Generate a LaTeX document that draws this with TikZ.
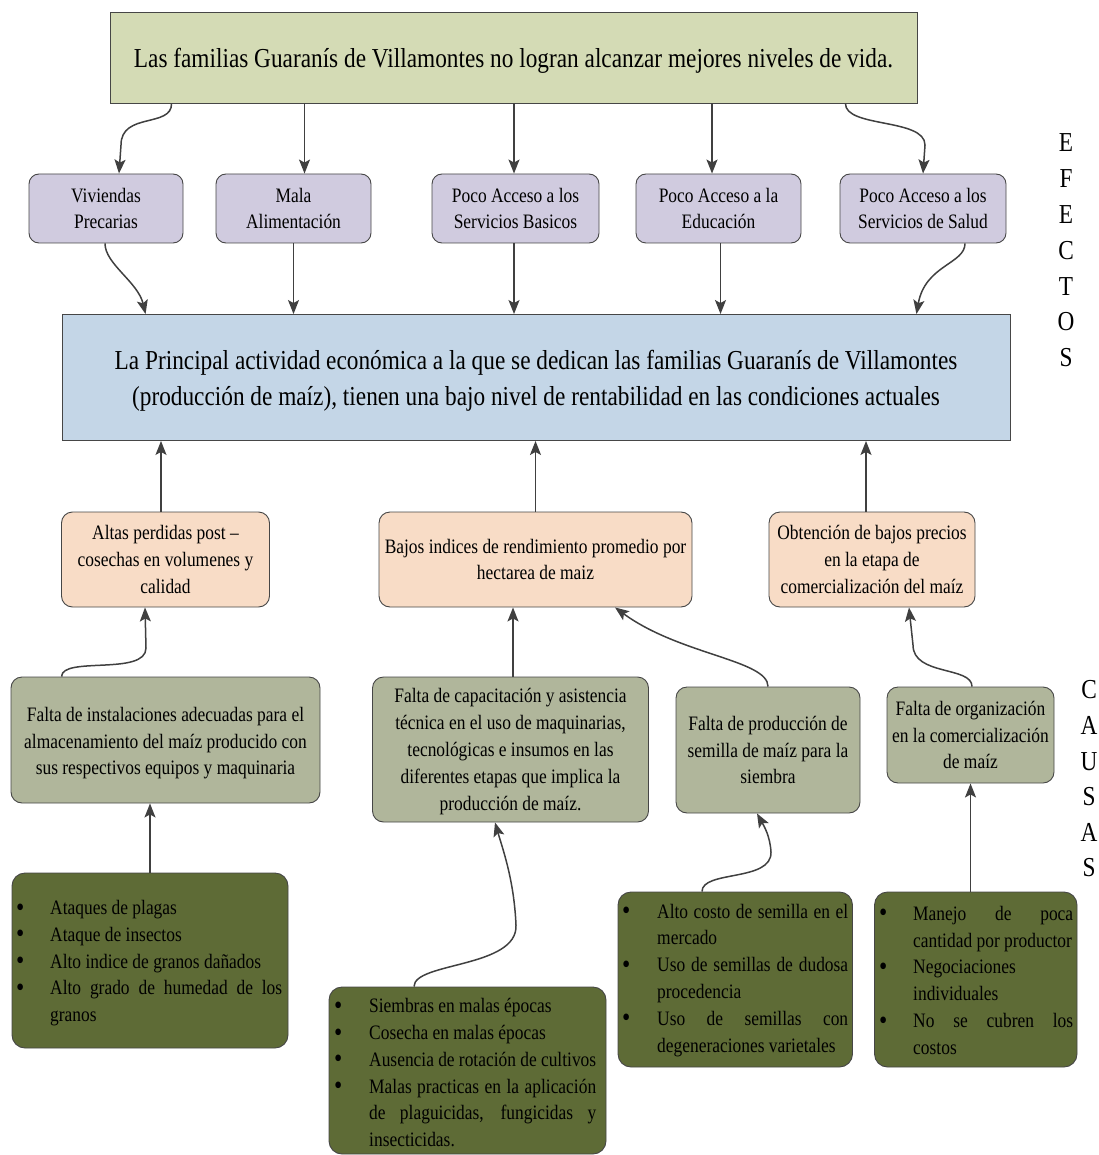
\documentclass[tikz,border=0pt]{standalone}
\usepackage{fontspec}
\setmainfont{Liberation Serif}[FakeStretch=0.85]
\usetikzlibrary{arrows.meta}
\definecolor{topc}{RGB}{212,219,181}
\definecolor{purc}{RGB}{208,203,223}
\definecolor{bluec}{RGB}{196,214,231}
\definecolor{orac}{RGB}{248,220,198}
\definecolor{grayc}{RGB}{176,182,155}
\definecolor{darkc}{RGB}{94,107,54}
\definecolor{bordc}{RGB}{70,70,70}
\definecolor{arrc}{RGB}{64,64,64}
\newcommand\fsml{\fontsize{20.5pt}{26.8pt}\selectfont}
\newcommand\fbg{\fontsize{27.4pt}{36pt}\selectfont}
\newlength\bhang
\newcommand\bul[1]{\par\noindent\hangindent=\bhang\hangafter=1\hbox to\bhang{\raisebox{-1.5pt}{\scalebox{1.35}{\textbullet}}\hfil}#1\par}
\newcommand\nohyph{\hyphenpenalty=10000\exhyphenpenalty=10000\relax}
\tikzset{
  base/.style={draw=bordc, line width=0.9pt, inner sep=0pt, align=center, font=\fsml},
  topbox/.style={base, fill=topc, font=\fbg},
  bluebox/.style={base, fill=bluec, font=\fbg},
  purbox/.style={base, fill=purc, rounded corners=10pt},
  orabox/.style={base, fill=orac, rounded corners=11pt},
  graybox/.style={base, fill=grayc, rounded corners=11pt},
  darkbox/.style={base, fill=darkc, rounded corners=13pt},
  bultext/.style={inner sep=0pt, anchor=west, align=justify, font=\fsml},
  side/.style={inner sep=0pt, align=center},
  conn/.style={draw=arrc, line width=1.5pt, -{Stealth[length=14pt,width=11pt,inset=3pt]}},
}
\begin{document}
\begin{tikzpicture}[x=1pt,y=-1pt]
\useasboundingbox (0,0) rectangle (1098,1155);
% effects level
\node[topbox, minimum width=807pt, minimum height=91pt] (top) at (513.5,57.5) {\rule{0pt}{25pt}Las familias Guaranís de Villamontes no logran alcanzar mejores niveles de vida.};
\node[purbox, minimum width=154pt, minimum height=69pt] (p1) at (106,208.5) {Viviendas\\Precarias};
\node[purbox, minimum width=155pt, minimum height=69pt] (p2) at (293.5,208.5) {Mala\\Alimentación};
\node[purbox, minimum width=167pt, minimum height=69pt] (p3) at (515.5,208.5) {Poco Acceso a los\\Servicios Basicos};
\node[purbox, minimum width=165pt, minimum height=69pt] (p4) at (718.5,208.5) {Poco Acceso a la\\Educación};
\node[purbox, minimum width=166pt, minimum height=69pt] (p5) at (923,208.5) {Poco Acceso a los\\Servicios de Salud};
\node[bluebox, minimum width=948pt, minimum height=126pt] (blue) at (536,377.5) {\rule{0pt}{25pt}La Principal actividad económica a la que se dedican las familias Guaranís de Villamontes\\(producción de maíz), tienen una bajo nivel de rentabilidad en las condiciones actuales};
% causes level
\node[orabox, minimum width=208pt, minimum height=95pt] (o1) at (165.5,559.5) {Altas perdidas post –\\cosechas en volumenes y\\calidad};
\node[orabox, minimum width=313pt, minimum height=95pt] (o2) at (535.5,559.5) {Bajos indices de rendimiento promedio por\\hectarea de maiz};
\node[orabox, minimum width=206pt, minimum height=95pt] (o3) at (872,559.5) {Obtención de bajos precios\\en la etapa de\\comercialización del maíz};
\node[graybox, minimum width=309pt, minimum height=126pt] (g1) at (165.5,740) {\rule{0pt}{20.5pt}Falta de instalaciones adecuadas para el\\almacenamiento del maíz producido con\\sus respectivos equipos y maquinaria};
\node[graybox, minimum width=276pt, minimum height=145pt] (g2) at (510.5,749.5) {\rule{0pt}{18.5pt}Falta de capacitación y asistencia\\técnica en el uso de maquinarias,\\tecnológicas e insumos en las\\diferentes etapas que implica la\\producción de maíz.};
\node[graybox, minimum width=184pt, minimum height=126pt] (g3) at (768,750) {Falta de producción de\\semilla de maíz para la\\siembra};
\node[graybox, minimum width=167pt, minimum height=96pt] (g4) at (970.5,735) {Falta de organización\\en la comercialización\\de maíz};
\node[darkbox, minimum width=276pt, minimum height=175pt] (d1) at (150,960.5) {};
\node[darkbox, minimum width=277pt, minimum height=167pt] (d2) at (467.5,1070.5) {};
\node[darkbox, minimum width=234.5pt, minimum height=175pt] (d3) at (735.25,979.5) {};
\node[darkbox, minimum width=202.5pt, minimum height=175pt] (d4) at (975.75,979.5) {};
\node[bultext, text width=266pt] (d1t) at (16,957) {\nohyph\setlength\bhang{34pt}%
  \bul{Ataques de plagas}\bul{Ataque de insectos}\bul{Alto indice de granos dañados}\bul{Alto grado de humedad de los granos}};
\node[bultext, text width=262pt] (d2t) at (334,1066.5) {\nohyph\setlength\bhang{35pt}%
  \bul{Siembras en malas épocas}\bul{Cosecha en malas épocas}\bul{Ausencia de rotación de cultivos}\bul{Malas practicas en la aplicación de plaguicidas, fungicidas y insecticidas.}};
\node[bultext, text width=226pt] (d3t) at (622,974) {\nohyph\setlength\bhang{35pt}%
  \bul{Alto costo de semilla en el mercado}\bul{Uso de semillas de dudosa procedencia}\bul{Uso de semillas con degeneraciones varietales}};
\node[bultext, text width=194pt] (d4t) at (879,974) {\nohyph\setlength\bhang{34pt}%
  \bul{Manejo de poca cantidad por productor}\bul{Negociaciones individuales}\bul{No se cubren los\linebreak costos}};
% side labels
\node[side, font=\fontsize{27.4pt}{35.8pt}\selectfont] (efectos) at (1066,250.5) {E\\F\\E\\C\\T\\O\\S};
\node[side, font=\fontsize{27.4pt}{35.6pt}\selectfont] (causas) at (1089,779) {C\\A\\U\\S\\A\\S};
% connectors: top -> purple
\draw[conn] ([xshift=62pt]top.south west) .. controls (172,128) and (121,112) .. (121,145) -- ([xshift=13pt]p1.north);
\draw[conn] ([xshift=11pt]p2.north |- top.south) -- ([xshift=11pt]p2.north);
\draw[conn] ([xshift=-1.5pt]p3.north |- top.south) -- ([xshift=-1.5pt]p3.north);
\draw[conn] ([xshift=-6.5pt]p4.north |- top.south) -- ([xshift=-6.5pt]p4.north);
\draw[conn] ([xshift=-72pt]top.south east) .. controls (845,128) and (925,118) .. (925,145) -- (p5.north);
% purple -> blue
\draw[conn] ([xshift=-1pt]p1.south) .. controls (105,264) and (138,282) .. ([xshift=84pt]blue.north west);
\draw[conn] (p2.south) -- (p2.south |- blue.north);
\draw[conn] ([xshift=-1.5pt]p3.south) -- ([xshift=-1.5pt]p3.south |- blue.north);
\draw[conn] ([xshift=2pt]p4.south) -- ([xshift=2pt]p4.south |- blue.north);
\draw[conn] ([xshift=42pt]p5.south) .. controls (965,264) and (925,265) .. ([xshift=-94pt]blue.north east);
% orange -> blue
\draw[conn] ([xshift=-4.5pt]o1.north) -- ([xshift=-4.5pt]o1.north |- blue.south);
\draw[conn] (o2.north) -- (o2.north |- blue.south);
\draw[conn] ([xshift=-6pt]o3.north) -- ([xshift=-6pt]o3.north |- blue.south);
% gray -> orange
\draw[conn] ([xshift=51pt]g1.north west) .. controls (62,656) and (146,676) .. (146,648) -- ([xshift=-20.5pt]o1.south);
\draw[conn] ([xshift=2.5pt]g2.north) -- ([xshift=2.5pt]g2.north |- o2.south);
\draw[conn] (g3.north) .. controls (768,660) and (680,655) .. ([xshift=79.5pt]o2.south);
\draw[conn] ([xshift=1.5pt]g4.north) .. controls (972,666) and (913,676) .. (913,645) -- ([xshift=37pt]o3.south);
% dark -> gray
\draw[conn] (d1.north) -- (d1.north |- g1.south);
\draw[conn] ([xshift=-53.5pt]d2.north) .. controls (414,962) and (518,968) .. (516,925) .. controls (514,880) and (503,850) .. ([xshift=-15.5pt]g2.south);
\draw[conn] ([xshift=-33.25pt]d3.north) .. controls (702,870) and (772,882) .. (771,852) .. controls (770,836) and (764,826) .. ([xshift=-11pt]g3.south);
\draw[conn] (g4.south |- d4.north) -- (g4.south);
\end{tikzpicture}
\end{document}
